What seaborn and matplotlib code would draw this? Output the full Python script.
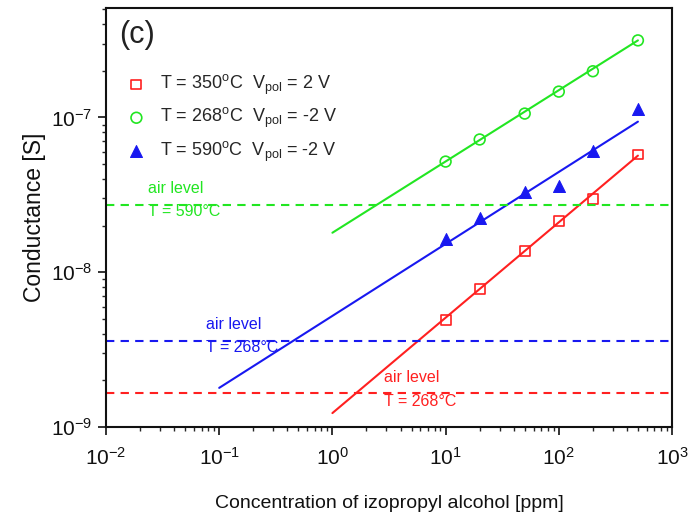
import numpy as np
import pandas as pd
import matplotlib
matplotlib.use("Agg")
import matplotlib.pyplot as plt
import matplotlib.ticker as mticker
import seaborn as sns

# ---- data ----
conc = [10, 20, 50, 100, 200, 500]
g_350 = [4.93e-9, 7.82e-9, 1.38e-8, 2.15e-8, 2.99e-8, 5.77e-8]
g_268 = [5.19e-8, 7.21e-8, 1.06e-7, 1.47e-7, 1.99e-7, 3.15e-7]
g_590 = [1.65e-8, 2.25e-8, 3.32e-8, 3.63e-8, 6.03e-8, 1.13e-7]

fit_x_350 = [1, 500]
fit_y_350 = [1.23e-9, 5.67e-8]
fit_x_268 = [1, 500]
fit_y_268 = [1.80e-8, 3.15e-7]
fit_x_590 = [0.1, 500]
fit_y_590 = [1.79e-9, 9.4e-8]

air_levels = [2.74e-8, 3.6e-9, 1.66e-9]
air_labels = ["T = 590°C", "T = 268°C", "T = 268°C"]

series_labels = [r"T = 350$^{\rm o}$C  V$_{\rm pol}$ = 2 V",
                 r"T = 268$^{\rm o}$C  V$_{\rm pol}$ = -2 V",
                 r"T = 590$^{\rm o}$C  V$_{\rm pol}$ = -2 V"]

RED, GREEN, BLUE = "#ff2020", "#22e622", "#1818f0"

sns.set_style("ticks")
plt.rcParams["font.family"] = ["Liberation Sans", "DejaVu Sans"]
plt.rcParams["mathtext.fontset"] = "custom"
plt.rcParams["mathtext.rm"] = "Liberation Sans"
plt.rcParams["mathtext.it"] = "Liberation Sans:italic"
plt.rcParams["mathtext.bf"] = "Liberation Sans:bold"
plt.rcParams["axes.unicode_minus"] = False

fig = plt.figure(figsize=(6.91, 5.18), dpi=100)
ax = fig.add_axes([106/691, 1-427/518, (672-106)/691, (427-8)/518])

pts = pd.DataFrame({
    "x": conc * 3,
    "y": g_350 + g_268 + g_590,
    "s": [series_labels[0]]*6 + [series_labels[1]]*6 + [series_labels[2]]*6,
})
fits = pd.DataFrame({
    "x": fit_x_350 + fit_x_268 + fit_x_590,
    "y": fit_y_350 + fit_y_268 + fit_y_590,
    "s": ["a"]*2 + ["b"]*2 + ["c"]*2,
})

# fit lines
sns.lineplot(data=fits, x="x", y="y", hue="s", palette=[RED, GREEN, BLUE],
             ax=ax, legend=False, linewidth=1.5)

# air levels
for lvl, c in zip(air_levels, [GREEN, BLUE, RED]):
    ax.axhline(lvl, color=c, linestyle=(0, (4, 3)), linewidth=1.5)

# markers
sns.scatterplot(data=pts[pts.s == series_labels[0]], x="x", y="y", marker="s",
                facecolor="none", edgecolor=RED, linewidth=1.2, s=50, ax=ax,
                label=series_labels[0])
sns.scatterplot(data=pts[pts.s == series_labels[1]], x="x", y="y", marker="o",
                facecolor="none", edgecolor=GREEN, linewidth=1.2, s=60, ax=ax,
                label=series_labels[1])
sns.scatterplot(data=pts[pts.s == series_labels[2]], x="x", y="y", marker="^",
                color=BLUE, edgecolor=BLUE, s=75, ax=ax,
                label=series_labels[2])

ax.set_xscale("log")
ax.set_yscale("log")
ax.set_xlim(1e-2, 1e3)
ax.set_ylim(1e-9, 5.1e-7)
ax.xaxis.set_minor_formatter(mticker.NullFormatter())
ax.yaxis.set_minor_formatter(mticker.NullFormatter())
ax.xaxis.get_offset_text().set_visible(False)
ax.yaxis.get_offset_text().set_visible(False)

# air level texts
fs_air = 11.5
ax.text(0.0235, 3.47e-8, "air level", color=GREEN, fontsize=fs_air, va="center")
ax.text(0.0235, 2.47e-8, air_labels[0], color=GREEN, fontsize=fs_air, va="center")
ax.text(0.0767, 4.57e-9, "air level", color=BLUE, fontsize=fs_air, va="center")
ax.text(0.0767, 3.24e-9, air_labels[1], color=BLUE, fontsize=fs_air, va="center")
ax.text(2.88, 2.08e-9, "air level", color=RED, fontsize=fs_air, va="center")
ax.text(2.88, 1.46e-9, air_labels[2], color=RED, fontsize=fs_air, va="center")

ax.text(0.024, 0.935, "(c)", transform=ax.transAxes, fontsize=22,
        color="#222222", va="center")

leg = ax.legend(loc="upper left", bbox_to_anchor=(0.025, 0.862), frameon=False,
                fontsize=13, handletextpad=0.8, labelspacing=0.5,
                borderaxespad=0.0, handlelength=1.0)

ax.set_xlabel("Concentration of izopropyl alcohol [ppm]", fontsize=14,
              labelpad=19, color="#111111")
ax.set_ylabel("Conductance [S]", fontsize=16.5, labelpad=4, color="#111111")
ax.tick_params(axis="both", which="major", labelsize=15, length=6,
               width=1.2, direction="out", colors="#111111")
ax.tick_params(axis="x", which="major", pad=8)
ax.tick_params(axis="both", which="minor", length=3, width=1.0,
               direction="out")
for sp in ax.spines.values():
    sp.set_linewidth(1.5)
    sp.set_color("#111111")

fig.savefig("out.png", dpi=100)
